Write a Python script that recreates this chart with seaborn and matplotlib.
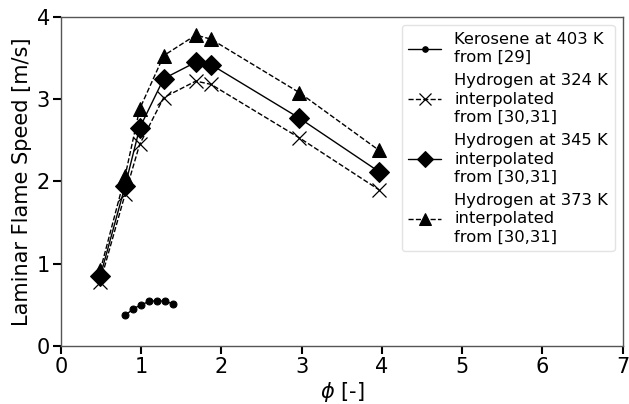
import numpy as np
import pandas as pd
import matplotlib
matplotlib.use("Agg")
import matplotlib.pyplot as plt
import seaborn as sns

# equivalence ratio / flame speed values
phi_kero = [0.8, 0.9, 1.0, 1.1, 1.2, 1.3, 1.4]
sl_kero = [0.37, 0.45, 0.50, 0.54, 0.55, 0.54, 0.51]

phi_h2 = [0.49, 0.8, 0.98, 1.28, 1.68, 1.87, 2.97, 3.96]
sl_h2_324 = [0.78, 1.85, 2.45, 3.02, 3.22, 3.18, 2.53, 1.90]
sl_h2_345 = [0.85, 1.95, 2.65, 3.25, 3.45, 3.42, 2.77, 2.12]
sl_h2_373 = [0.92, 2.07, 2.88, 3.53, 3.78, 3.73, 3.08, 2.38]

labels = ["Kerosene at 403 K\nfrom [29]",
          "Hydrogen at 324 K\ninterpolated\nfrom [30,31]",
          "Hydrogen at 345 K\ninterpolated\nfrom [30,31]",
          "Hydrogen at 373 K\ninterpolated\nfrom [30,31]"]

sns.set_style("ticks", {"text.color": "black", "axes.labelcolor": "black",
                        "xtick.color": "black", "ytick.color": "black"})
plt.rcParams["font.family"] = ["DejaVu Sans"]

fig = plt.figure(figsize=(6.29, 4.04), dpi=100)
ax = fig.add_axes([0.097, 0.144, 0.893, 0.814])

common = dict(ax=ax, color="black", markeredgecolor="black", lw=1, sort=False)
sns.lineplot(x=phi_kero, y=sl_kero, marker="o", markersize=5,
             linestyle="-", label=labels[0], **common)
sns.lineplot(x=phi_h2, y=sl_h2_324, marker="x", markersize=10,
             markeredgewidth=0.9, linestyle="--", label=labels[1], **common)
sns.lineplot(x=phi_h2, y=sl_h2_345, marker="D", markersize=10,
             linestyle="-", label=labels[2], **common)
sns.lineplot(x=phi_h2, y=sl_h2_373, marker="^", markersize=10,
             linestyle="--", label=labels[3], **common)

ax.set_xlim(0, 7)
ax.set_ylim(0, 4)
ax.set_xticks(range(0, 8))
ax.set_yticks(range(0, 5))
ax.set_xlabel(r"$\phi$ [-]", fontsize=15, labelpad=2)
ax.set_ylabel("Laminar Flame Speed [m/s]", fontsize=15, labelpad=3)
ax.tick_params(labelsize=15, width=1.5, length=6, color="black", pad=2)
for s in ax.spines.values():
    s.set_color("#555555")
    s.set_linewidth(1)

leg = ax.legend(loc="upper right", fontsize=11.8, frameon=True,
                handlelength=2, borderaxespad=0.5, labelspacing=0.5,
                markerscale=0.8)
for t in leg.get_texts():
    t.set_linespacing(1.28)
leg.get_frame().set_edgecolor("#dddddd")

fig.savefig("out.png", dpi=100)
